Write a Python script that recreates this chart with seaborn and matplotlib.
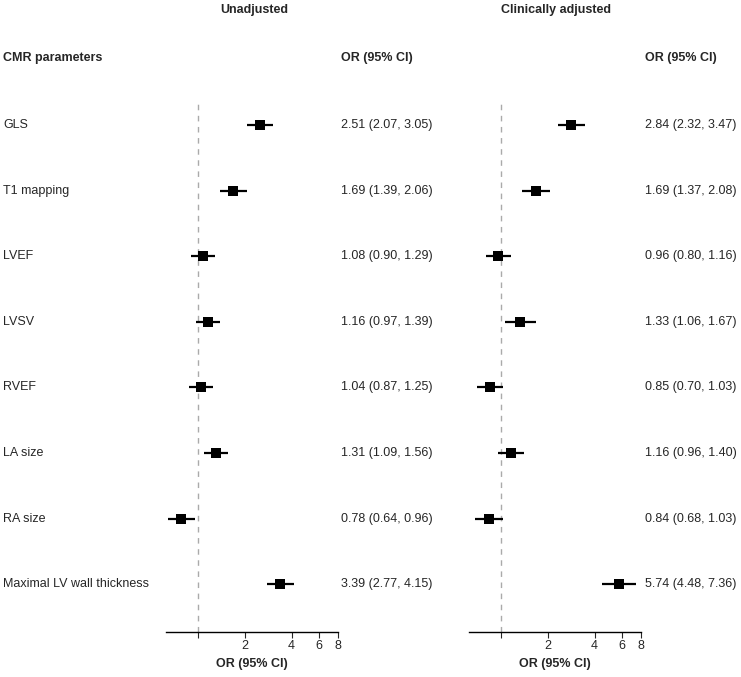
import numpy as np
import pandas as pd
import matplotlib
matplotlib.use("Agg")
import matplotlib.pyplot as plt
import seaborn as sns

# forest plot data: CMR parameters vs odds ratios
params = ["GLS", "T1 mapping", "LVEF", "LVSV", "RVEF", "LA size", "RA size",
          "Maximal LV wall thickness"]

unadj_or = [2.51, 1.69, 1.08, 1.16, 1.04, 1.31, 0.78, 3.39]
unadj_lo = [2.07, 1.39, 0.90, 0.97, 0.87, 1.09, 0.64, 2.77]
unadj_hi = [3.05, 2.06, 1.29, 1.39, 1.25, 1.56, 0.96, 4.15]

adj_or = [2.84, 1.69, 0.96, 1.33, 0.85, 1.16, 0.84, 5.74]
adj_lo = [2.32, 1.37, 0.80, 1.06, 0.70, 0.96, 0.68, 4.48]
adj_hi = [3.47, 2.08, 1.16, 1.67, 1.03, 1.40, 1.03, 7.36]

xticks = [1, 2, 4, 6, 8]
xticklabels = ["", "2", "4", "6", "8"]

sns.set_style("white")
plt.rcParams["font.family"] = ["Liberation Sans", "DejaVu Sans"]

W, H = 741, 677
fig = plt.figure(figsize=(W / 100, H / 100), dpi=100)

# pixel helpers
def fx(px):
    return px / W

def fy(py):
    return 1 - py / H

row0, step = 125, 65.6
xmin, xmax = 0.62, 8
ppd = 46.8  # pixels per doubling
ax_top, ax_bot = 100, 632
ylo = (ax_bot - row0) / step
yhi = (ax_top - row0) / step


def panel(x_one, orv, lo, hi):
    x0 = x_one - ppd * np.log2(1 / xmin)
    w = ppd * np.log2(xmax / xmin)
    ax = fig.add_axes([fx(x0), fy(ax_bot), w / W, (ax_bot - ax_top) / H])
    df = pd.DataFrame({"param": params, "or": orv, "lo": lo, "hi": hi,
                       "row": np.arange(len(params))})
    ax.set_xscale("log")
    ax.vlines(1, ylo, yhi, colors="#aaaaaa", linestyles=(0, (4, 4)), lw=1)
    ax.hlines(df["row"], df["lo"], df["hi"], colors="black", lw=1.6)
    sns.scatterplot(data=df, x="or", y="row", marker="s", s=50, color="black",
                    linewidth=0, ax=ax, zorder=3, legend=False)
    ax.set_xlim(xmin, xmax)
    ax.set_ylim(ylo, yhi)
    ax.set_xticks(xticks)
    ax.set_xticklabels(xticklabels, fontsize=9)
    ax.xaxis.set_minor_locator(matplotlib.ticker.NullLocator())
    ax.tick_params(axis="x", direction="out", length=4, width=0.8, pad=2,
                   bottom=True)
    ax.set_yticks([])
    ax.set_ylabel("")
    ax.set_xlabel("OR (95% CI)", fontsize=9, fontweight="bold", labelpad=4)
    for s in ["top", "right", "left"]:
        ax.spines[s].set_visible(False)
    ax.spines["bottom"].set_color("black")
    ax.spines["bottom"].set_linewidth(1)
    return ax


panel(198, unadj_or, unadj_lo, unadj_hi)
panel(501, adj_or, adj_lo, adj_hi)

# titles and headers
fig.text(fx(254), fy(10), "Unadjusted", ha="center", va="center",
         fontsize=9, fontweight="bold")
fig.text(fx(556), fy(10), "Clinically adjusted", ha="center", va="center",
         fontsize=9, fontweight="bold")
fig.text(fx(3), fy(58), "CMR parameters", ha="left", va="center",
         fontsize=9, fontweight="bold")
fig.text(fx(341), fy(58), "OR (95% CI)", ha="left", va="center",
         fontsize=9, fontweight="bold")
fig.text(fx(645), fy(58), "OR (95% CI)", ha="left", va="center",
         fontsize=9, fontweight="bold")

# row labels and OR text
for i, p in enumerate(params):
    y = fy(row0 + step * i)
    fig.text(fx(3), y, p, ha="left", va="center", fontsize=9)
    fig.text(fx(341), y, f"{unadj_or[i]:.2f} ({unadj_lo[i]:.2f}, {unadj_hi[i]:.2f})",
             ha="left", va="center", fontsize=9)
    fig.text(fx(645), y, f"{adj_or[i]:.2f} ({adj_lo[i]:.2f}, {adj_hi[i]:.2f})",
             ha="left", va="center", fontsize=9)

fig.savefig("out.png", dpi=100)
